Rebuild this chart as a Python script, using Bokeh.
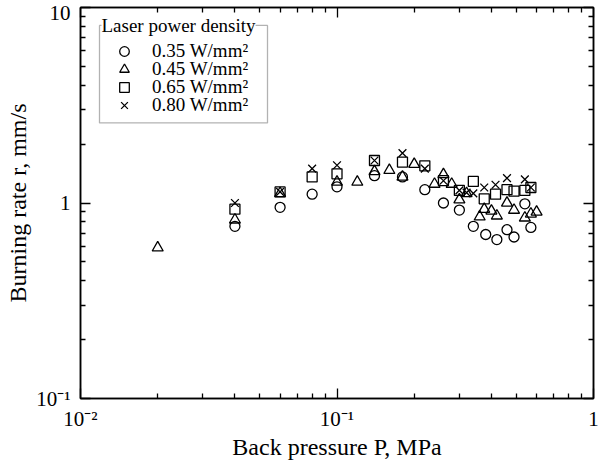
from bokeh.plotting import figure
from bokeh.models import (LogAxis, FixedTicker, Legend, LegendItem,
                          BoxAnnotation, Label, Range1d, CustomJSTickFormatter)
from bokeh.embed import file_html
from bokeh.resources import INLINE

# ---------------- data ----------------
series_labels = ["0.35 W/mm\u00b2", "0.45 W/mm\u00b2", "0.65 W/mm\u00b2", "0.80 W/mm\u00b2"]
legend_title = "Laser power density"

p_035 = [0.04, 0.06, 0.08, 0.10, 0.14, 0.18, 0.22, 0.26, 0.30, 0.34, 0.38, 0.42, 0.46, 0.49, 0.54, 0.57]
r_035 = [0.76, 0.95, 1.11, 1.21, 1.38, 1.36, 1.17, 1.00, 0.92, 0.76, 0.69, 0.65, 0.73, 0.67, 0.99, 0.75]

p_045 = [0.02, 0.04, 0.06, 0.10, 0.12, 0.14, 0.16, 0.18, 0.20, 0.24, 0.26, 0.28, 0.30, 0.32,
         0.36, 0.375, 0.40, 0.42, 0.46, 0.49, 0.54, 0.57, 0.60]
r_045 = [0.59, 0.82, 1.12, 1.28, 1.28, 1.45, 1.47, 1.36, 1.58, 1.25, 1.40, 1.25, 1.04, 1.12,
         0.85, 0.93, 0.91, 0.86, 1.00, 0.92, 0.84, 0.88, 0.90]

p_065 = [0.04, 0.06, 0.08, 0.10, 0.14, 0.18, 0.22, 0.26, 0.30, 0.34, 0.375, 0.415, 0.46, 0.49, 0.54, 0.57]
r_065 = [0.93, 1.14, 1.36, 1.41, 1.65, 1.62, 1.55, 1.30, 1.16, 1.29, 1.05, 1.11, 1.17, 1.15, 1.16, 1.20]

p_080 = [0.04, 0.06, 0.08, 0.10, 0.14, 0.18, 0.22, 0.26, 0.30, 0.32, 0.34, 0.375, 0.415, 0.46, 0.54, 0.57]
r_080 = [1.00, 1.14, 1.50, 1.56, 1.65, 1.80, 1.50, 1.30, 1.16, 1.13, 1.12, 1.20, 1.24, 1.34, 1.32, 1.20]

x_ticks = [0.01, 0.1, 1]
x_tick_labels = ["10\u207b\u00b2", "10\u207b\u00b9", "1"]
y_ticks = [0.1, 1, 10]
y_tick_labels = ["10\u207b\u00b9", "1", "10"]

x_title = "Back pressure P, MPa"
y_title = "Burning rate r, mm/s"

# ---------------- styling ----------------
FONT = "Liberation Serif"
FS = "19px"
TICK_FS = "21px"
TITLE_FS = "24px"
x_minor = [m * 10.0 ** e for e in (-2, -1) for m in range(2, 10)]
y_minor = [m * 10.0 ** e for e in (-1, 0) for m in range(2, 10)]

# frame pixel geometry (page coordinates) used to place legend decorations
FX0, FX1, FY0, FY1 = 88, 601, 15, 408


def fx(px):
    return 10 ** (-2 + 2 * (px - FX0) / (FX1 - FX0))


def fy(py):
    return 10 ** (1 - 2 * (py - FY0) / (FY1 - FY0))


p = figure(width=599, height=462, x_axis_type="log", y_axis_type="log",
           x_range=Range1d(0.01, 1), y_range=Range1d(0.1, 10),
           output_backend="svg", toolbar_location=None,
           min_border_left=80, min_border_right=6, min_border_top=7, min_border_bottom=62)

p.grid.visible = False
p.outline_line_color = "black"
p.outline_line_width = 1.5
p.background_fill_color = "white"
p.border_fill_color = "white"


def style_axis(ax, ticks, minor, labels=None, show=True):
    ax.ticker = FixedTicker(ticks=ticks, minor_ticks=minor)
    ax.axis_line_color = "black"
    ax.axis_line_width = 1.5
    ax.major_tick_line_color = "black"
    ax.minor_tick_line_color = "black"
    ax.major_tick_line_width = 1.3
    ax.minor_tick_line_width = 1.3
    ax.major_tick_in = 10
    ax.major_tick_out = 0
    ax.minor_tick_in = 5
    ax.minor_tick_out = 0
    if show:
        ax.major_label_overrides = labels
        ax.major_label_text_font = FONT
        ax.major_label_text_font_size = TICK_FS
        ax.major_label_text_color = "black"
        ax.axis_label_text_font = FONT
        ax.axis_label_text_font_size = TITLE_FS
        ax.axis_label_text_font_style = "normal"
        ax.axis_label_text_color = "black"
    else:
        ax.formatter = CustomJSTickFormatter(code="return ''")
        ax.major_label_text_font_size = "1px"
        ax.major_label_text_alpha = 0
        ax.major_label_standoff = 0


style_axis(p.xaxis[0], x_ticks, x_minor, dict(zip(x_ticks, x_tick_labels)))
style_axis(p.yaxis[0], y_ticks, y_minor, dict(zip(y_ticks, y_tick_labels)))
p.xaxis[0].axis_label = x_title
p.yaxis[0].axis_label = y_title
p.xaxis[0].major_label_standoff = 8
p.xaxis[0].axis_label_standoff = 0
p.yaxis[0].major_label_standoff = 10
p.yaxis[0].axis_label_standoff = 2

top_ax = LogAxis()
right_ax = LogAxis()
style_axis(top_ax, x_ticks, x_minor, show=False)
style_axis(right_ax, y_ticks, y_minor, show=False)
p.add_layout(top_ax, "above")
p.add_layout(right_ax, "right")

common = dict(line_color="black", fill_color=None, line_width=1.3)
r1 = p.scatter(p_035, r_035, marker="circle", size=10, **common)
r2 = p.scatter(p_045, r_045, marker="triangle", size=11, **common)
r3 = p.scatter(p_065, r_065, marker="square", size=10, **common)
r4 = p.scatter(p_080, r_080, marker="x", size=11, **common)

# ---- legend frame and title (title sits on the top border) ----
box = BoxAnnotation(left=fx(107), right=fx(275), top=fy(33), bottom=fy(131),
                    fill_color=None, line_color="black", line_width=1.3)
p.add_layout(box)
p.add_layout(Label(x=fx(109), y=fy(33), text=legend_title, text_font=FONT, text_font_size=FS,
                   text_baseline="middle", text_align="left", background_fill_color="white",
                   text_color="black"))

row_centers = [61, 79, 97, 115]
for i, r in enumerate([r1, r2, r3, r4]):
    lg = Legend(items=[LegendItem(label=series_labels[i], renderers=[r])],
                location=(32, FY1 - (row_centers[i] + 12)), orientation="vertical",
                border_line_color=None, background_fill_alpha=0,
                padding=0, margin=0, spacing=0,
                glyph_width=24, glyph_height=24, label_height=24,
                label_standoff=16, label_text_font=FONT, label_text_font_size=FS,
                label_text_color="black")
    p.add_layout(lg)

open("out.html", "w").write(file_html(p, INLINE))
